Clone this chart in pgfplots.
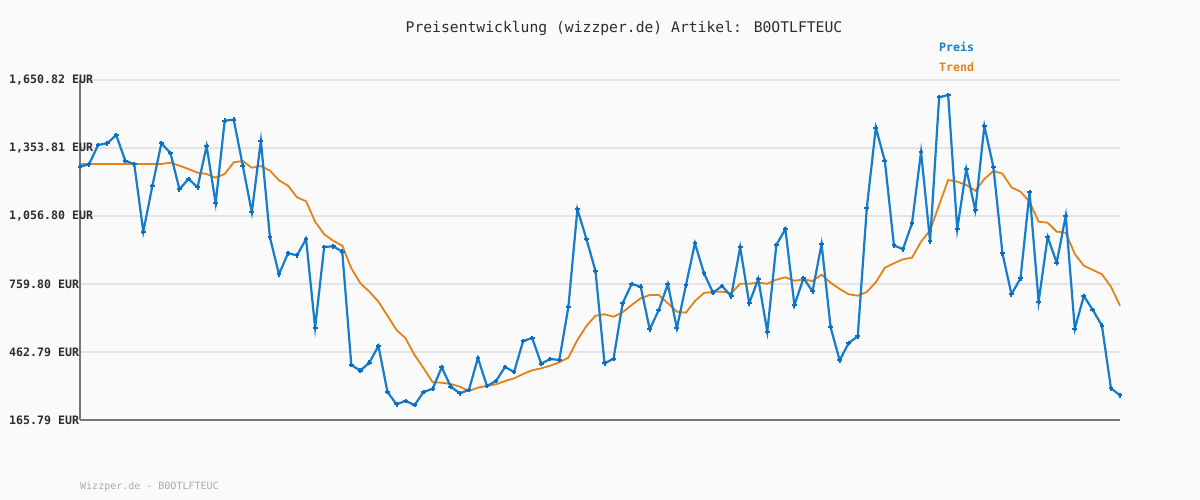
\documentclass[border=0pt]{standalone}
\usepackage{pgfplots}
\pgfplotsset{compat=1.18}
\usepackage{pgfplotstable}
\usepackage{fontspec}
\setmainfont{DejaVu Sans Mono}
\definecolor{bg}{RGB}{250,250,250}
\definecolor{pblue}{RGB}{22,124,204}
\definecolor{mblue}{RGB}{10,110,195}
\definecolor{torange}{RGB}{226,130,24}
\definecolor{gridc}{RGB}{228,228,228}
\definecolor{axc}{RGB}{118,118,118}
\definecolor{txt}{RGB}{45,45,45}
\definecolor{foot}{RGB}{170,170,170}

\pgfplotstableread{
i price trend
0 1272.1 1283.9
1 1282.6 1283.9
2 1366.9 1283.9
3 1374.3 1283.9
4 1410.6 1283.9
5 1298.3 1283.9
6 1282.6 1283.9
7 988.2 1283.9
8 1187.8 1283.9
9 1374.3 1283.9
10 1332.0 1289.6
11 1173.4 1276.5
12 1218.4 1262.1
13 1182.2 1245.9
14 1362.5 1240.3
15 1112.3 1224.1
16 1473.1 1240.3
17 1477.4 1291.4
18 1276.5 1297.0
19 1073.0 1267.8
20 1385.7 1275.2
21 963.8 1254.7
22 802.2 1212.7
23 893.9 1189.2
24 885.2 1138.5
25 956.4 1121.0
26 568.9 1031.9
27 921.4 976.9
28 924.5 948.9
29 900.9 927.1
30 406.0 828.4
31 381.1 762.9
32 416.9 726.2
33 489.0 682.5
34 288.1 621.3
35 234.4 558.9
36 248.8 522.6
37 231.3 449.7
38 288.1 391.6
39 302.5 330.5
40 396.0 328.7
41 311.2 323.0
42 282.4 311.2
43 296.8 292.5
44 436.6 306.9
45 314.3 314.3
46 336.1 321.7
47 397.3 336.1
48 375.4 347.9
49 510.8 366.7
50 523.9 382.9
51 411.7 391.6
52 432.2 403.0
53 427.9 417.8
54 658.0 437.9
55 1086.1 515.2
56 956.4 576.4
57 816.6 621.3
58 413.4 627.5
59 433.5 617.0
60 675.5 636.2
61 759.8 668.1
62 748.0 697.3
63 561.9 711.8
64 646.2 711.8
65 759.8 675.5
66 566.3 638.8
67 754.1 634.5
68 937.6 685.5
69 806.5 720.5
70 721.8 726.2
71 751.1 726.2
72 706.1 719.2
73 920.1 761.1
74 675.5 761.1
75 781.6 765.5
76 551.5 761.1
77 930.1 778.6
78 1000.0 789.1
79 666.8 774.2
80 785.1 779.5
81 727.9 772.9
82 934.5 800.4
83 570.7 765.5
84 426.5 738.0
85 502.1 714.8
86 531.4 708.7
87 1090.4 724.9
88 1442.5 767.2
89 1297.0 831.0
90 928.8 850.2
91 911.4 867.7
92 1024.9 874.7
93 1336.3 944.6
94 946.3 994.4
95 1575.3 1104.9
96 1585.3 1214.1
97 998.7 1206.6
98 1262.1 1192.2
99 1081.7 1167.3
100 1449.9 1218.4
101 1270.8 1253.4
102 893.9 1241.6
103 714.8 1182.2
104 784.7 1163.0
105 1161.6 1119.3
106 682.5 1031.9
107 965.1 1027.6
108 852.8 988.2
109 1058.1 983.9
110 564.6 890.8
111 707.4 839.7
112 646.2 821.0
113 577.7 802.2
114 304.2 748.0
115 273.7 665.0
}\pricedata

\begin{document}
\begin{tikzpicture}[x=1pt,y=1pt]
\fill[bg] (0,0) rectangle (1200,500);
\node[font=\fontsize{14.7}{17}\selectfont, text=txt] at (624,472) {Preisentwicklung (wizzper.de) Artikel: B0OTLFTEUC};
\node[anchor=west, inner sep=0pt, font=\fontsize{11.6}{13}\selectfont\bfseries, text=pblue] at (939,453) {Preis};
\node[anchor=west, inner sep=0pt, font=\fontsize{11.6}{13}\selectfont\bfseries, text=torange] at (939,433) {Trend};
\node[anchor=west, inner sep=0pt, font=\fontsize{10}{12}\selectfont, text=foot] at (80,13) {Wizzper.de - B0OTLFTEUC};
\begin{axis}[
  at={(80pt,80pt)}, anchor=south west,
  scale only axis, width=1040pt, height=340pt,
  xmin=0, xmax=115, ymin=165.79, ymax=1650.82,
  axis lines=left,
  axis line style={-, axc, line width=2pt},
  xtick=\empty,
  ytick={165.79,462.79,759.80,1056.80,1353.81,1650.82},
  yticklabels={165.79 EUR,462.79 EUR,759.80 EUR,{1,056.80 EUR},{1,353.81 EUR},{1,650.82 EUR}},
  major tick length=0pt,
  ymajorgrids,
  grid style={gridc, line width=2.2pt},
  yticklabel style={anchor=west, inner sep=0pt, xshift=-71pt, font=\fontsize{11.6}{13}\selectfont\bfseries, text=txt},
  clip=false,
]
\addplot[torange, line width=1.8pt] table[x=i, y=trend] {\pricedata};
\addplot[pblue, line width=2.2pt, mark=+, mark size=2.4pt, mark options={mblue, line width=2pt}] table[x=i, y=price] {\pricedata};
\end{axis}
\end{tikzpicture}
\end{document}
